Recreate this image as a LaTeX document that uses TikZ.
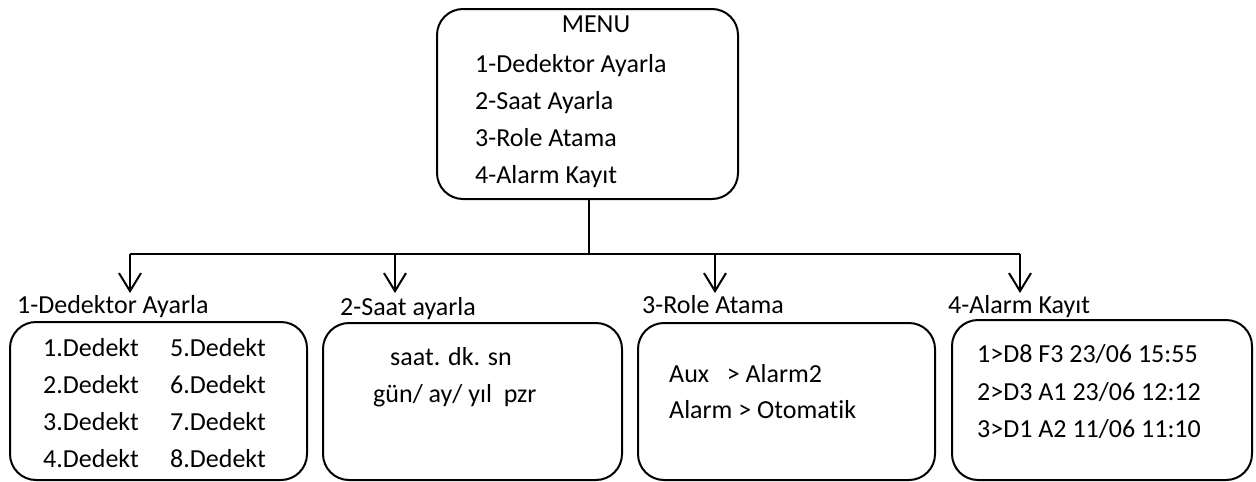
\documentclass[tikz,border=0pt]{standalone}
\usepackage{fontspec}
\setmainfont[Ligatures=NoCommon]{Carlito}
\usetikzlibrary{arrows.meta}
\begin{document}
\begin{tikzpicture}[x=1pt,y=-1pt,
  box/.style={draw,line width=2pt,rounded corners=26pt},
  txt/.style={anchor=base west,inner sep=0pt,font=\fontsize{26}{30}\selectfont},
  conn/.style={line width=2pt},
  arr/.style={line width=2pt,-{Straight Barb[length=18pt,width=22pt,line width=2pt]}}]
\useasboundingbox (0,0) rectangle (1256,482);
% boxes
\draw[box] (437,9) rectangle (738,199);
\draw[box] (10,322) rectangle (307,480);
\draw[box] (323,323) rectangle (622,480);
\draw[box] (638,323) rectangle (935,480);
\draw[box] (952,320) rectangle (1252,480);
\coordinate (menub) at (589,199);
% menu text
\node[txt,anchor=base] (mt) at (596,32) {MENU};
\node[txt] (m1) at (475,72) {1-Dedektor Ayarla};
\node[txt] (m2) at (475,109) {2-Saat Ayarla};
\node[txt] (m3) at (475,146) {3-Role Atama};
\node[txt] (m4) at (475,183) {4-Alarm Kayıt};
% connectors
\coordinate (bus) at (589,254);
\coordinate (b1) at (130,254);
\coordinate (b2) at (395,254);
\coordinate (b3) at (715,254);
\coordinate (b4) at (1020,254);
\coordinate (t1) at (130,293);
\coordinate (t2) at (395,293);
\coordinate (t3) at (715,293);
\coordinate (t4) at (1020,293);
\draw[conn] (menub) -- (bus);
\draw[conn] (b1) -- (b4);
\draw[arr] (b1) -- (t1);
\draw[arr] (b2) -- (t2);
\draw[arr] (b3) -- (t3);
\draw[arr] (b4) -- (t4);
% labels
\node[txt] (l1) at (17,313) {1-Dedektor Ayarla};
\node[txt] (l2) at (340,315) {2-Saat ayarla};
\node[txt] (l3) at (642,313) {3-Role Atama};
\node[txt] (l4) at (948,313) {4-Alarm Kayıt};
% box 1
\node[txt] (d1) at (43,356) {1.Dedekt};
\node[txt] (d2) at (43,393) {2.Dedekt};
\node[txt] (d3) at (43,430) {3.Dedekt};
\node[txt] (d4) at (43,467) {4.Dedekt};
\node[txt] (d5) at (170,356) {5.Dedekt};
\node[txt] (d6) at (170,393) {6.Dedekt};
\node[txt] (d7) at (170,430) {7.Dedekt};
\node[txt] (d8) at (170,467) {8.Dedekt};
% box 2
\node[txt] (s1) at (390,365) {saat. dk. sn};
\node[txt] (s2) at (373,402) {gün/ ay/ yıl\ \ pzr};
% box 3
\node[txt] (r1) at (669,382) {Aux\ \ \ > Alarm2};
\node[txt] (r2) at (669,418) {Alarm > Otomatik};
% box 4
\node[txt] (a1) at (977,362) {1>D8 F3 23/06 15:55};
\node[txt] (a2) at (977,400) {2>D3 A1 23/06 12:12};
\node[txt] (a3) at (977,437) {3>D1 A2 11/06 11:10};
\end{tikzpicture}
\end{document}
